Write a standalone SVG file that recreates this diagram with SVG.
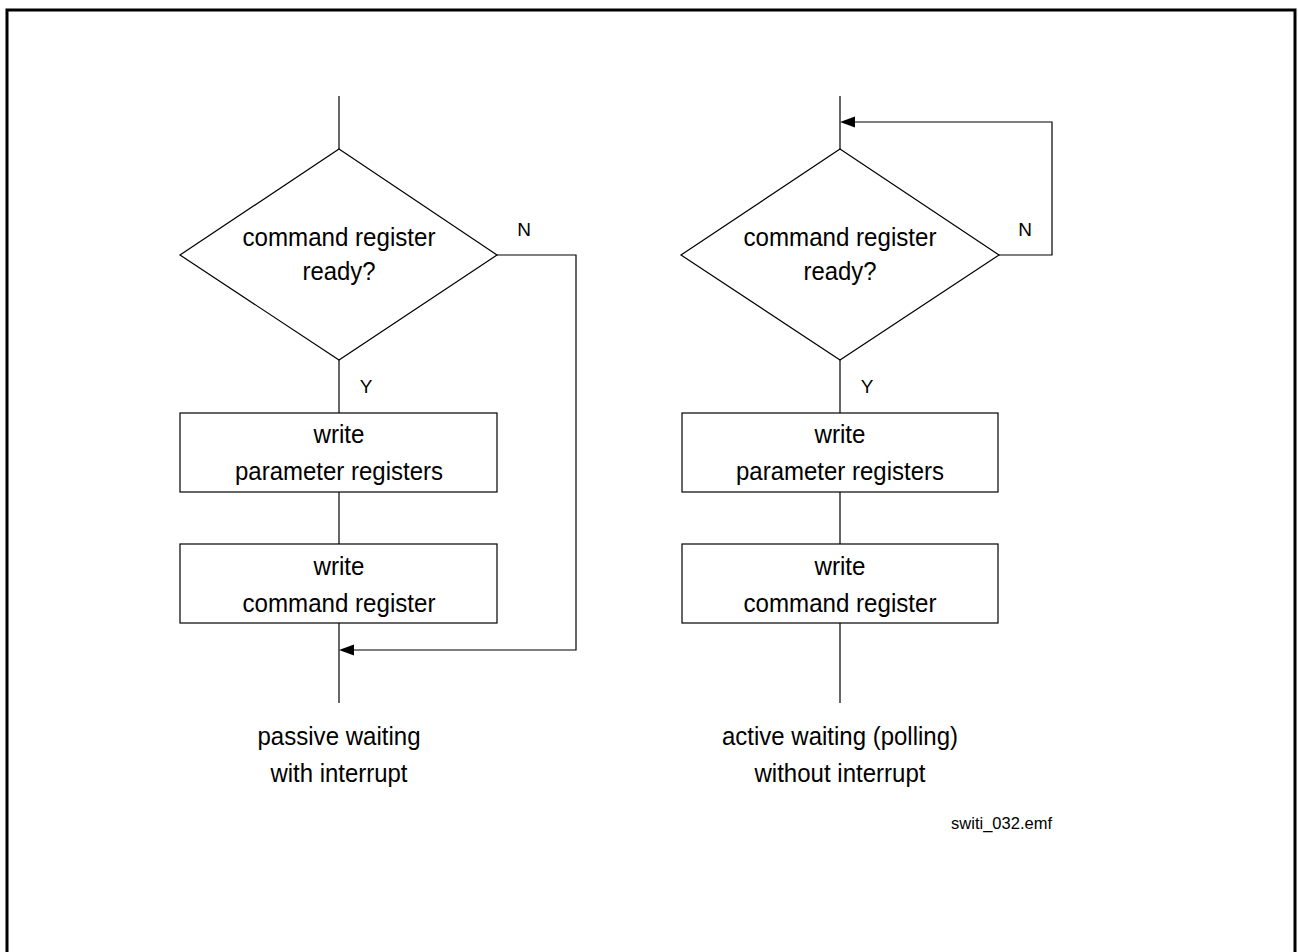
<svg xmlns="http://www.w3.org/2000/svg" width="1298" height="952" viewBox="0 0 1298 952">
<defs>
<style>
.frame{fill:none;stroke:#000;stroke-width:3}
.shape{fill:#fff;stroke:#000;stroke-width:1.2}
.line{fill:none;stroke:#000;stroke-width:1.2}
.head{fill:#000;stroke:none}
text{font-family:"Liberation Sans",Arial,sans-serif;fill:#000;text-anchor:middle}
.t{font-size:25.5px}
.lab{font-size:19px}
.small{font-size:16.5px;text-anchor:end}
</style>
</defs>
<rect width="1298" height="952" fill="#fff"/>
<rect class="frame" x="7" y="10" width="1288" height="970"/>
<g id="connectors">
<line class="line" x1="339" y1="96" x2="339" y2="149"/>
<line class="line" x1="339" y1="360" x2="339" y2="413"/>
<line class="line" x1="339" y1="492" x2="339" y2="544"/>
<line class="line" x1="339" y1="623" x2="339" y2="703"/>
<polyline class="line" points="497,255 576,255 576,650 352,650"/>
<polygon class="head" points="339,650 354,644.5 354,655.5"/>
<line class="line" x1="840" y1="96" x2="840" y2="149"/>
<line class="line" x1="840" y1="360" x2="840" y2="413"/>
<line class="line" x1="840" y1="492" x2="840" y2="544"/>
<line class="line" x1="840" y1="623" x2="840" y2="703"/>
<polyline class="line" points="999,255 1052,255 1052,122 853,122"/>
<polygon class="head" points="840,122 855,116.5 855,127.5"/>
</g>
<g id="left-decision">
<polygon class="shape" points="339,149 497,255 339,360 180,255"/>
<text class="t" x="339" y="246" textLength="193" lengthAdjust="spacingAndGlyphs">command register</text>
<text class="t" x="339" y="280" textLength="73" lengthAdjust="spacingAndGlyphs">ready?</text>
</g>
<g id="left-n"><text class="lab" x="524" y="236">N</text></g>
<g id="left-y"><text class="lab" x="366" y="393">Y</text></g>
<g id="left-write-param">
<rect class="shape" x="180" y="413" width="317" height="79"/>
<text class="t" x="339" y="443" textLength="51" lengthAdjust="spacingAndGlyphs">write</text>
<text class="t" x="339" y="480" textLength="208" lengthAdjust="spacingAndGlyphs">parameter registers</text>
</g>
<g id="left-write-cmd">
<rect class="shape" x="180" y="544" width="317" height="79"/>
<text class="t" x="339" y="575" textLength="51" lengthAdjust="spacingAndGlyphs">write</text>
<text class="t" x="339" y="612" textLength="193" lengthAdjust="spacingAndGlyphs">command register</text>
</g>
<g id="left-caption">
<text class="t" x="339" y="745" textLength="163" lengthAdjust="spacingAndGlyphs">passive waiting</text>
<text class="t" x="339" y="782" textLength="137" lengthAdjust="spacingAndGlyphs">with interrupt</text>
</g>
<g id="right-decision">
<polygon class="shape" points="840,149 999,255 840,360 681,255"/>
<text class="t" x="840" y="246" textLength="193" lengthAdjust="spacingAndGlyphs">command register</text>
<text class="t" x="840" y="280" textLength="73" lengthAdjust="spacingAndGlyphs">ready?</text>
</g>
<g id="right-n"><text class="lab" x="1025" y="236">N</text></g>
<g id="right-y"><text class="lab" x="867" y="393">Y</text></g>
<g id="right-write-param">
<rect class="shape" x="682" y="413" width="316" height="79"/>
<text class="t" x="840" y="443" textLength="51" lengthAdjust="spacingAndGlyphs">write</text>
<text class="t" x="840" y="480" textLength="208" lengthAdjust="spacingAndGlyphs">parameter registers</text>
</g>
<g id="right-write-cmd">
<rect class="shape" x="682" y="544" width="316" height="79"/>
<text class="t" x="840" y="575" textLength="51" lengthAdjust="spacingAndGlyphs">write</text>
<text class="t" x="840" y="612" textLength="193" lengthAdjust="spacingAndGlyphs">command register</text>
</g>
<g id="right-caption">
<text class="t" x="840" y="745" textLength="236" lengthAdjust="spacingAndGlyphs">active waiting (polling)</text>
<text class="t" x="840" y="782" textLength="171" lengthAdjust="spacingAndGlyphs">without interrupt</text>
</g>
<g id="filename"><text class="small" x="1052" y="829">switi_032.emf</text></g>
</svg>
